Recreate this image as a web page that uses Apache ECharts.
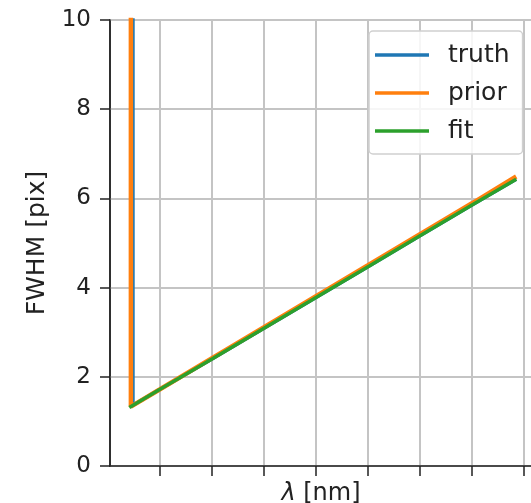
<!DOCTYPE html>
<html><head><meta charset="utf-8">
<script src="https://cdn.jsdelivr.net/npm/echarts@6/dist/echarts.min.js"></script>
<style>html,body{margin:0;padding:0;background:#fff}#c{width:531px;height:503px}</style>
</head><body><div id="c"></div>
<script>
// x in units of tick spacing (tick labels are not shown in the reference)
const xTicks = [0, 1, 2, 3, 4, 5, 6, 7];
const yTicks = [0, 2, 4, 6, 8, 10];
const seriesNames = ['truth', 'prior', 'fit'];
const truthX = [-0.52, -0.52, 0, 1, 2, 3, 4, 5, 6, 6.85];
const truthY = [40, 1.36, 1.72, 2.40, 3.09, 3.78, 4.47, 5.16, 5.85, 6.43];
const priorX = [-0.56, -0.56, 0, 1, 2, 3, 4, 5, 6, 6.85];
const priorY = [40, 1.33, 1.72, 2.42, 3.11, 3.81, 4.50, 5.20, 5.89, 6.49];
const fitX = [-0.59, 0, 1, 2, 3, 4, 5, 6, 6.85];
const fitY = [1.31, 1.72, 2.40, 3.09, 3.78, 4.47, 5.16, 5.85, 6.43];

const colors = ['#1f77b4', '#ff7f0e', '#2ca02c'];
const FONT = 'DejaVu Sans';
const pairs = (xs, ys) => xs.map((x, i) => [x, ys[i]]);
const legendIcon = 'path://M0,0 L54,0 L54,3.5 L0,3.5 Z';

const chart = echarts.init(document.getElementById('c'));
chart.setOption({
  animation: false,
  textStyle: { fontFamily: FONT },
  grid: { left: 110, top: 20, width: 422, height: 446, outerBoundsMode: 'none', containLabel: false,
          show: true, borderColor: '#222', borderWidth: 1.5, backgroundColor: 'transparent' },
  legend: {
    data: seriesNames.map(n => ({ name: n, icon: legendIcon })),
    orient: 'vertical',
    left: 369, top: 31,
    padding: [10, 13, 9, 6],
    itemWidth: 54, itemHeight: 3.5, itemGap: 10,
    backgroundColor: 'rgba(255,255,255,0.85)',
    borderColor: '#d0d0d0', borderWidth: 1.5, borderRadius: 4,
    textStyle: { fontSize: 25, lineHeight: 28, color: '#222', fontFamily: FONT, padding: [0, 0, 0, 14] }
  },
  xAxis: {
    type: 'value',
    min: -50 / 52, max: 372 / 52,
    minInterval: 1, maxInterval: 1,
    name: '{i|λ} [nm]',
    nameLocation: 'middle', nameGap: 16,
    nameTextStyle: { fontSize: 24, color: '#222', fontFamily: FONT, verticalAlign: 'top',
      rich: { i: { fontSize: 24, fontStyle: 'italic', color: '#222', fontFamily: FONT } } },
    axisLine: { show: true, onZero: false, lineStyle: { color: '#222', width: 1.5 } },
    axisTick: { show: true, length: 10, inside: false, customValues: xTicks, lineStyle: { color: '#222', width: 1.5 } },
    axisLabel: { show: false },
    splitLine: { show: true, lineStyle: { color: '#c4c4c4', width: 2 } }
  },
  yAxis: {
    type: 'value',
    min: yTicks[0], max: yTicks[yTicks.length - 1], interval: 2,
    name: 'FWHM [pix]',
    nameLocation: 'middle', nameGap: 60,
    nameTextStyle: { fontSize: 25, color: '#222', fontFamily: FONT },
    axisLine: { show: true, onZero: false, lineStyle: { color: '#222', width: 1.5 } },
    axisTick: { show: true, length: 10, lineStyle: { color: '#222', width: 1.5 } },
    axisLabel: { fontSize: 23, color: '#222', margin: 19, fontFamily: FONT },
    splitLine: { show: true, lineStyle: { color: '#c4c4c4', width: 2 } }
  },
  series: [
    { name: seriesNames[0], type: 'line', data: pairs(truthX, truthY), symbol: 'none', showSymbol: false, color: colors[0], lineStyle: { width: 3.5, color: colors[0] } },
    { name: seriesNames[1], type: 'line', data: pairs(priorX, priorY), symbol: 'none', showSymbol: false, color: colors[1], lineStyle: { width: 4.5, color: colors[1] } },
    { name: seriesNames[2], type: 'line', data: pairs(fitX, fitY), symbol: 'none', showSymbol: false, color: colors[2], lineStyle: { width: 3.5, color: colors[2] } }
  ]
});
</script>
</body></html>
